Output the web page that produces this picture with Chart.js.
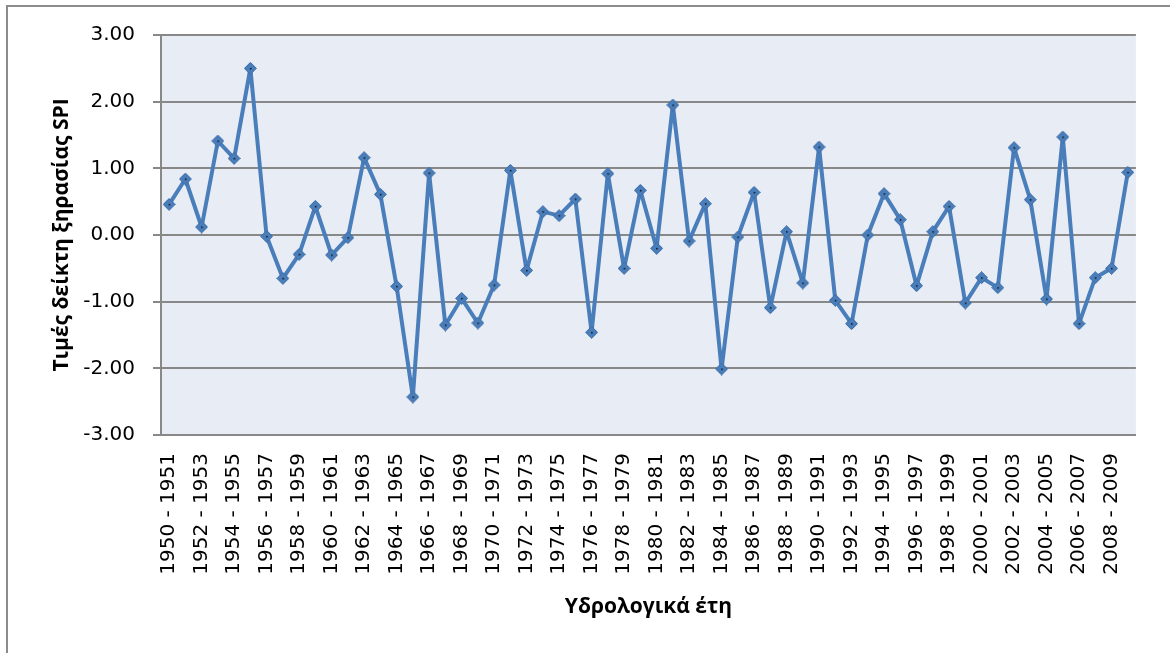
<!DOCTYPE html>
<html>
<head>
<meta charset="utf-8">
<script src="https://cdn.jsdelivr.net/npm/chart.js@4.4.0/dist/chart.umd.min.js"></script>
<style>
  html, body { margin: 0; padding: 0; background: #fff; overflow: hidden; }
  #wrap { position: relative; width: 1170px; height: 653px; }
  #frame { position: absolute; left: 6px; top: 5px; width: 1200px; height: 700px; border: 2px solid #8c8c8c; }
  canvas { position: absolute; left: 0; top: 0; }
</style>
</head>
<body>
<div id="wrap">
  <div id="frame"></div>
  <canvas id="c" width="1170" height="653"></canvas>
</div>
<script>
const startYears = [];
for (let y = 1950; y <= 2009; y++) startYears.push(y);
const categories = startYears.map(y => y + ' - ' + (y + 1));

const spiValues = [
  0.46, 0.84, 0.12, 1.41, 1.15, 2.50, -0.02, -0.65, -0.29, 0.43,
  -0.30, -0.04, 1.16, 0.61, -0.77, -2.43, 0.93, -1.35, -0.95, -1.32,
  -0.75, 0.97, -0.53, 0.35, 0.29, 0.54, -1.46, 0.92, -0.50, 0.67,
  -0.20, 1.95, -0.09, 0.47, -2.01, -0.03, 0.64, -1.09, 0.05, -0.72,
  1.32, -0.98, -1.33, 0.00, 0.62, 0.23, -0.76, 0.05, 0.43, -1.02,
  -0.64, -0.79, 1.31, 0.53, -0.96, 1.47, -1.33, -0.64, -0.50, 0.94
];

const yTickValues = [-3, -2, -1, 0, 1, 2, 3];
const yTitle = 'Τιμές δείκτη ξηρασίας SPI';
const xTitle = 'Υδρολογικά έτη';

const lineColor = '#4A7EBB';
const gridColor = '#888888';

// diamond marker with small dark centre dot
const marker = document.createElement('canvas');
marker.width = 13; marker.height = 13;
(function () {
  const m = marker.getContext('2d');
  m.fillStyle = lineColor;
  m.strokeStyle = '#3D6DA6';
  m.lineWidth = 1;
  m.beginPath();
  m.moveTo(6.5, 0.5); m.lineTo(12.5, 6.5); m.lineTo(6.5, 12.5); m.lineTo(0.5, 6.5); m.closePath();
  m.fill(); m.stroke();
  m.fillStyle = '#111';
  m.fillRect(6, 6, 1.5, 1.5);
})();

const plotBg = {
  id: 'plotBg',
  beforeDraw(chart) {
    const a = chart.chartArea, ctx = chart.ctx;
    ctx.save();
    ctx.fillStyle = '#E8EDF5';
    ctx.fillRect(a.left, a.top, a.right - a.left, a.bottom - a.top);
    ctx.restore();
  }
};

new Chart(document.getElementById('c'), {
  type: 'line',
  data: {
    labels: categories,
    datasets: [{
      data: spiValues,
      borderColor: lineColor,
      borderWidth: 4,
      borderJoinStyle: 'round',
      borderCapStyle: 'round',
      pointStyle: marker,
      pointRadius: 6,
      tension: 0,
      fill: false
    }]
  },
  options: {
    responsive: false,
    animation: false,
    devicePixelRatio: 1,
    layout: { padding: { left: 0, top: 35, right: 27, bottom: 0 } },
    plugins: { legend: { display: false }, tooltip: { enabled: false } },
    scales: {
      x: {
        offset: true,
        grid: { display: false, drawTicks: false },
        border: { display: true, color: gridColor, width: 2 },
        ticks: {
          autoSkip: false,
          maxRotation: 90,
          minRotation: 90,
          padding: 18,
          color: '#000',
          font: { family: 'DejaVu Sans', size: 20 },
          callback: function (v, i) { return i % 2 === 0 ? categories[i] : ''; }
        },
        title: {
          display: true,
          text: xTitle,
          color: '#000',
          font: { family: 'Open Sans', size: 21, weight: 'bold', lineHeight: 1.2 },
          padding: { top: 0, bottom: 33 }
        },
        afterFit(scale) { scale.height = 218; }
      },
      y: {
        min: -3,
        max: 3,
        afterBuildTicks(scale) { scale.ticks = yTickValues.map(v => ({ value: v })); },
        grid: { color: gridColor, lineWidth: 2, drawTicks: true, tickLength: 8 },
        border: { display: true, color: gridColor, width: 2 },
        ticks: {
          padding: 18,
          color: '#000',
          font: { family: 'DejaVu Sans', size: 20 },
          callback: v => Number(v).toFixed(2)
        },
        title: {
          display: true,
          text: yTitle,
          color: '#000',
          font: { family: 'Open Sans', size: 21, weight: 'bold', lineHeight: 1.2 },
          padding: { top: 49, bottom: 0 }
        },
        afterFit(scale) { scale.width = 161; }
      }
    }
  },
  plugins: [plotBg]
});
</script>
</body>
</html>
